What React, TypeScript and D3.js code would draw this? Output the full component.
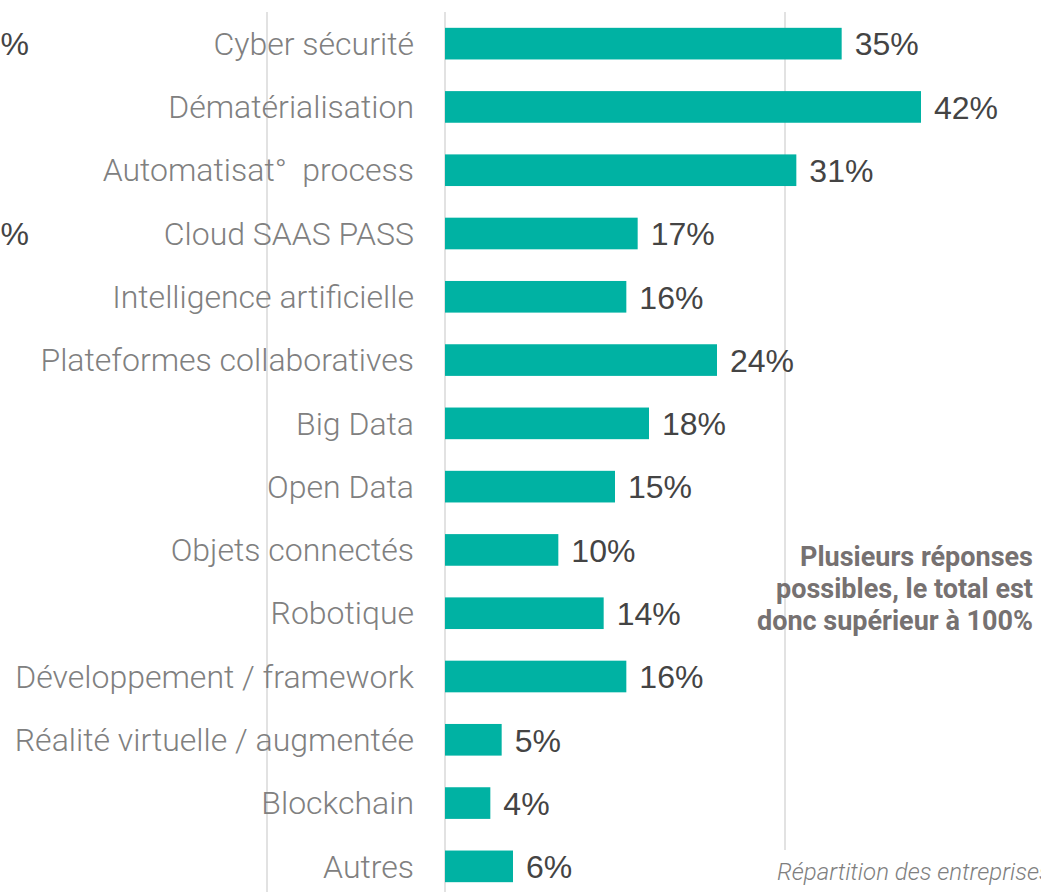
import { useEffect, useRef } from "react";
import * as d3 from "d3";

const categories = [
  "Cyber sécurité",
  "Dématérialisation",
  "Automatisat°  process",
  "Cloud SAAS PASS",
  "Intelligence artificielle",
  "Plateformes collaboratives",
  "Big Data",
  "Open Data",
  "Objets connectés",
  "Robotique",
  "Développement / framework",
  "Réalité virtuelle / augmentée",
  "Blockchain",
  "Autres",
];
const values = [35, 42, 31, 17, 16, 24, 18, 15, 10, 14, 16, 5, 4, 6];
const gridTicks = [0, 30];
// values of the neighbouring chart, cut off at the left edge
const leftoverLabels = ["22%", "", "", "12%"];
const noteLines = [
  "Plusieurs réponses",
  "possibles, le total est",
  "donc supérieur à 100%",
];
const footer = "Répartition des entreprises";

export default function App() {
  const ref = useRef<SVGSVGElement>(null);

  useEffect(() => {
    const height = 892;
    const svg = d3.select(ref.current);
    svg.selectAll("*").remove();

    const x = d3.scaleLinear().domain([0, 30]).range([445, 785]);
    const y = d3
      .scaleBand<string>()
      .domain(categories)
      .range([12, 898])
      .paddingInner(0.5)
      .paddingOuter(0.25);

    // gridlines
    const grid = svg.append("g").attr("stroke", "#d9d9d9").attr("stroke-width", 1.5);
    grid
      .selectAll("line")
      .data(gridTicks)
      .join("line")
      .attr("x1", (d) => x(d))
      .attr("x2", (d) => x(d))
      .attr("y1", 12)
      .attr("y2", height);
    // gridline from the chart next door
    grid.append("line").attr("x1", 267).attr("x2", 267).attr("y1", 12).attr("y2", height);

    // leftover labels of the chart on the left
    svg
      .append("g")
      .selectAll("text")
      .data(leftoverLabels)
      .join("text")
      .attr("x", 29)
      .attr("y", (_, i) => y(categories[i])! + y.bandwidth() / 2)
      .attr("dy", "0.35em")
      .attr("text-anchor", "end")
      .attr("font-family", "'Liberation Sans', Arial, sans-serif")
      .attr("font-size", 32)
      .attr("fill", "#444")
      .text((d) => d);

    // category labels
    svg
      .append("g")
      .selectAll("text")
      .data(categories)
      .join("text")
      .attr("x", 414)
      .attr("y", (d) => y(d)! + y.bandwidth() / 2)
      .attr("dy", "0.35em")
      .attr("text-anchor", "end")
      .attr("font-family", "Roboto, sans-serif")
      .attr("font-weight", 300)
      .attr("font-size", 32)
      .attr("fill", "#808080")
      .style("white-space", "pre")
      .text((d) => d);

    // bars
    svg
      .append("g")
      .selectAll("rect")
      .data(values)
      .join("rect")
      .attr("x", x(0))
      .attr("y", (_, i) => y(categories[i])!)
      .attr("width", (d) => x(d) - x(0))
      .attr("height", y.bandwidth())
      .attr("fill", "#00b2a3");

    // value labels
    svg
      .append("g")
      .selectAll("text")
      .data(values)
      .join("text")
      .attr("x", (d) => x(d) + 13)
      .attr("y", (_, i) => y(categories[i])! + y.bandwidth() / 2)
      .attr("dy", "0.37em")
      .attr("font-family", "'Liberation Sans', Arial, sans-serif")
      .attr("font-size", 32)
      .attr("fill", "#444")
      .text((d) => `${d}%`);

    // note
    svg
      .append("g")
      .selectAll("text")
      .data(noteLines)
      .join("text")
      .attr("x", 1033)
      .attr("y", (_, i) => 566 + i * 32)
      .attr("text-anchor", "end")
      .attr("font-family", "Roboto, sans-serif")
      .attr("font-weight", 700)
      .attr("font-size", 27)
      .attr("fill", "#767171")
      .text((d) => d);

    // footer, its white box hides the bottom of the 30% gridline
    svg.append("rect").attr("x", 760).attr("y", 850).attr("width", 290).attr("height", 50).attr("fill", "#fff");
    svg
      .append("text")
      .attr("x", 777)
      .attr("y", 880)
      .attr("font-family", "Roboto, sans-serif")
      .attr("font-weight", 300)
      .attr("font-style", "italic")
      .attr("font-size", 24)
      .attr("fill", "#7f7f7f")
      .text(footer);
  }, []);

  return (
    <svg
      ref={ref}
      width={1041}
      height={892}
      style={{ position: "absolute", left: 0, top: 0, background: "#fff" }}
    />
  );
}
